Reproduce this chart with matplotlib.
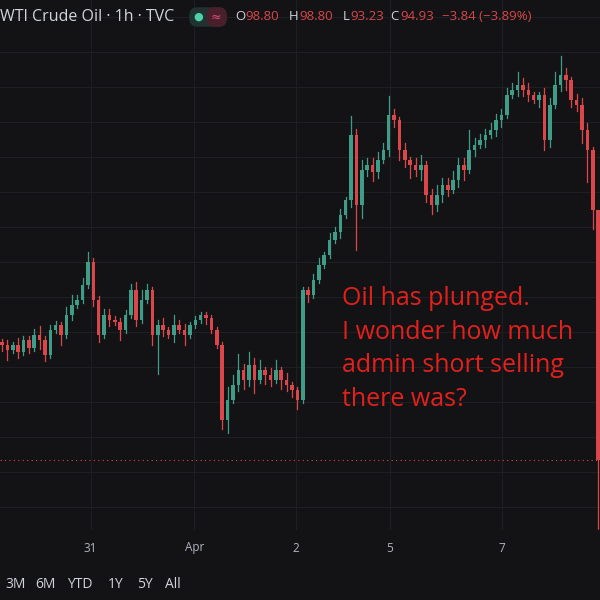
import matplotlib.pyplot as plt
import matplotlib.patches as mpatches
import numpy as np

# hourly WTI candles (price units)
closes = [96.71, 96.63, 96.71, 96.60, 96.79, 96.66, 96.86, 96.79, 96.56, 96.94,
          97.02, 96.86, 97.17, 97.33, 97.41, 97.64, 98.00, 97.41, 96.86, 97.17,
          97.10, 97.07, 96.94, 97.17, 97.56, 97.10, 97.41, 97.56, 96.86, 97.02,
          96.94, 96.86, 97.02, 96.94, 96.86, 97.02, 97.10, 97.17, 97.13, 96.94,
          96.71, 95.55, 95.86, 96.09, 96.32, 96.17, 96.40, 96.17, 96.32, 96.25,
          96.17, 96.32, 96.17, 96.09, 96.01, 95.86, 97.56, 97.48, 97.72, 97.95,
          98.10, 98.34, 98.46, 98.72, 98.95, 99.96, 98.88, 99.42, 99.50, 99.39,
          99.57, 99.73, 100.27, 100.19, 99.73, 99.57, 99.50, 99.42, 99.50, 99.03,
          98.88, 99.03, 99.19, 99.11, 99.26, 99.50, 99.42, 99.73, 99.81, 99.88,
          99.96, 100.04, 100.19, 100.27, 100.58, 100.66, 100.74, 100.66, 100.58, 100.50,
          100.58, 99.88, 100.43, 100.74, 100.89, 100.81, 100.50, 100.43, 100.04, 99.73,
          98.80, 94.93]
first_open = 96.75
wick_up = [0.05, 0.08, 0.05, 0.10, 0.06, 0.05, 0.10, 0.15, 0.05, 0.08,
           0.06, 0.05, 0.12, 0.15, 0.08, 0.10, 0.15, 0.05, 0.05, 0.10,
           0.10, 0.05, 0.05, 0.08, 0.10, 0.12, 0.15, 0.10, 0.05, 0.08,
           0.10, 0.05, 0.15, 0.08, 0.10, 0.05, 0.05, 0.05, 0.05, 0.05,
           0.05, 0.05, 0.20, 0.15, 0.25, 0.10, 0.20, 0.10, 0.15, 0.05,
           0.10, 0.15, 0.05, 0.10, 0.05, 0.05, 0.05, 0.05, 0.08, 0.10,
           0.05, 0.10, 0.08, 0.10, 0.05, 0.30, 0.10, 0.15, 0.10, 0.10,
           0.12, 0.10, 0.30, 0.10, 0.05, 0.10, 0.05, 0.10, 0.15, 0.05,
           0.10, 0.15, 0.10, 0.10, 0.15, 0.10, 0.10, 0.30, 0.10, 0.10,
           0.10, 0.10, 0.10, 0.10, 0.10, 0.10, 0.20, 0.10, 0.10, 0.05,
           0.05, 0.10, 0.10, 0.20, 0.30, 0.10, 0.05, 0.10, 0.10, 0.10,
           0.05, 0.00]
wick_dn = [0.10, 0.15, 0.05, 0.10, 0.05, 0.08, 0.05, 0.15, 0.10, 0.05,
           0.05, 0.15, 0.05, 0.08, 0.05, 0.05, 0.05, 0.10, 0.10, 0.05,
           0.10, 0.05, 0.15, 0.05, 0.05, 0.10, 0.05, 0.05, 0.15, 0.60,
           0.10, 0.05, 0.10, 0.05, 0.15, 0.05, 0.05, 0.05, 0.10, 0.05,
           0.05, 0.15, 0.20, 0.05, 0.10, 0.15, 0.10, 0.20, 0.05, 0.15,
           0.10, 0.05, 0.15, 0.10, 0.10, 0.15, 0.05, 0.10, 0.05, 0.05,
           0.05, 0.05, 0.05, 0.10, 0.05, 0.10, 0.70, 0.20, 0.10, 0.15,
           0.10, 0.05, 0.10, 0.10, 0.15, 0.10, 0.20, 0.10, 0.15, 0.10,
           0.15, 0.10, 0.10, 0.10, 0.05, 0.10, 0.15, 0.05, 0.10, 0.05,
           0.10, 0.05, 0.10, 0.10, 0.05, 0.05, 0.10, 0.10, 0.10, 0.05,
           0.10, 0.15, 0.10, 0.05, 0.10, 0.15, 0.10, 0.10, 0.20, 0.50,
           0.30, 1.70]
date_labels = ["31", "Apr", "2", "5", "7"]
date_pos = [16.5, 35.8, 54.8, 72.2, 93.1]
ranges = ["3M", "6M", "YTD", "1Y", "5Y", "All"]
range_x = [5, 35, 67, 108, 137, 165]

BG = "#131315"
UP = "#3f9c86"
DN = "#d9474a"
GRID = "#1e1f22"

fig = plt.figure(figsize=(6, 6), dpi=100, facecolor=BG)
ax = fig.add_axes([0, 0, 1, 1])
ax.set_facecolor(BG)
ax.set_xlim(-0.37, 111.35)
ax.set_ylim(92.76, 102.05)
ax.axis("off")

# grid
for k in range(15):
    yf = 1 - (17 + 35 * k) / 600
    ax.plot([0, 1], [yf, yf], color=GRID, lw=0.8, transform=ax.transAxes, zorder=0)
for p in date_pos:
    ax.plot([p, p], [ax.get_ylim()[0] + 1.0, ax.get_ylim()[1]], color=GRID, lw=0.8, zorder=0)

opens = [first_open] + closes[:-1]
for i, (o, c) in enumerate(zip(opens, closes)):
    col = UP if c >= o else DN
    hi = max(o, c) + wick_up[i]
    lo = min(o, c) - wick_dn[i]
    ax.plot([i, i], [lo, hi], color=col, lw=0.9, zorder=2)
    h = max(abs(c - o), 0.02)
    ax.add_patch(mpatches.Rectangle((i - 0.33, min(o, c)), 0.66, h, color=col, lw=0, zorder=3))

# last price line
ax.axhline(closes[-1], color=DN, lw=0.8, ls=(0, (1, 3)), zorder=1)

# bottom panels
fig.patches.append(mpatches.Rectangle((0, 0), 1, 1 - 530 / 600, transform=fig.transFigure,
                                      color=BG, zorder=5))
fig.add_artist(plt.Line2D([0, 1], [1 - 530 / 600] * 2, color="#26272a", lw=0.8))
fig.add_artist(plt.Line2D([0, 1], [1 - 567 / 600] * 2, color="#26272a", lw=0.8))
for lab, p in zip(date_labels, date_pos):
    xf = ax.transData.transform((p, 0))[0] / 600
    fig.text(xf, 1 - 548 / 600, lab, color="#b2b5be", fontsize=8.5, ha="center", va="center",
             family="Open Sans", zorder=6)
for r, px in zip(ranges, range_x):
    fig.text(px / 600, 1 - 585 / 600, r, color="#d1d4dc", fontsize=10, va="center",
             family="Open Sans", zorder=6)

# header
fig.text(0, 1 - 17 / 600, "WTI Crude Oil · 1h · TVC", color="#d1d4dc", fontsize=11.5,
         va="center", family="Open Sans")
fig.patches.append(mpatches.FancyBboxPatch((190 / 600, 1 - 26 / 600), 36 / 600, 18 / 600,
                                           boxstyle="round,pad=0,rounding_size=0.012",
                                           transform=fig.transFigure, color="#1f3330"))
fig.patches.append(mpatches.FancyBboxPatch((207 / 600, 1 - 26 / 600), 19 / 600, 18 / 600,
                                           boxstyle="round,pad=0,rounding_size=0.012",
                                           transform=fig.transFigure, color="#4a1f2c"))
fig.text(198 / 600, 1 - 17 / 600, "●", color="#4fd1a6", fontsize=8, ha="center", va="center",
         family="DejaVu Sans")
fig.text(216 / 600, 1 - 17 / 600, "≈", color="#d94f7a", fontsize=9, ha="center", va="center")
parts = [(235, "O", "#d1d4dc"), (245, "98.80", DN), (289, "H", "#d1d4dc"), (299, "98.80", DN),
         (343, "L", "#d1d4dc"), (350, "93.23", DN), (390, "C", "#d1d4dc"), (400, "94.93", DN),
         (442, "−3.84 (−3.89%)", DN)]
for px, s, c in parts:
    fig.text(px / 600, 1 - 17 / 600, s, color=c, fontsize=9.5, va="center", family="Open Sans")

# annotation
ann = "Oil has plunged.\nI wonder how much\nadmin short selling\nthere was?"
fig.text(342 / 600, 1 - 286 / 600, ann, color="#e3201c", fontsize=18, va="top",
         family="Open Sans", linespacing=1.45)

fig.savefig("out.png", dpi=100, facecolor=BG)
